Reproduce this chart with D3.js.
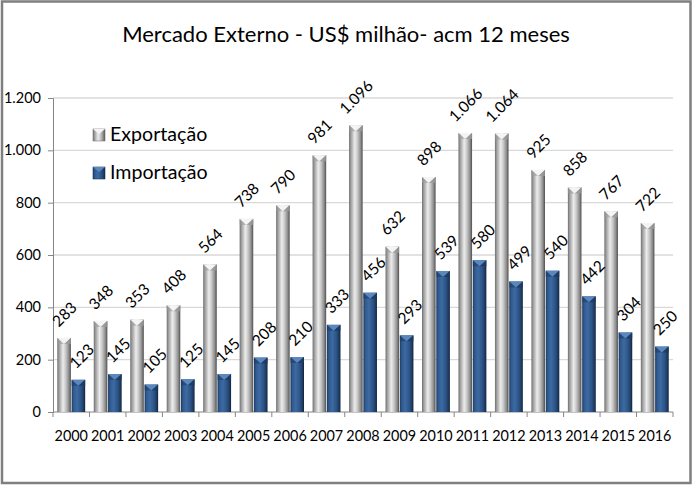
<!DOCTYPE html>
<html><head><meta charset="utf-8">
<script src="https://cdn.jsdelivr.net/npm/d3@7"></script>
<style>html,body{margin:0;padding:0;background:#fff}svg{display:block}text{font-family:Lato,"Open Sans",sans-serif;fill:#000}</style>
</head><body>
<script>
const years = ["2000","2001","2002","2003","2004","2005","2006","2007","2008","2009","2010","2011","2012","2013","2014","2015","2016"];
const exportacao = [283,348,353,408,564,738,790,981,1096,632,898,1066,1064,925,858,767,722];
const importacao = [123,145,105,125,145,208,210,333,456,293,539,580,499,540,442,304,250];
const seriesNames = ["Exportação","Importação"];
const yTicks = [0,200,400,600,800,1000,1200];
const title = "Mercado Externo - US$ milhão- acm 12 meses";

const W=693,H=486;
const svg=d3.select("body").append("svg").attr("width",W).attr("height",H);
const loc=d3.formatLocale({decimal:",",thousands:".",grouping:[3],currency:["",""]});
const fmt=loc.format(",d");

const defs=svg.append("defs");
function grad(id,stops){const g=defs.append("linearGradient").attr("id",id).attr("x1",0).attr("x2",1).attr("y1",0).attr("y2",0);
 stops.forEach(s=>g.append("stop").attr("offset",s[0]).attr("stop-color",s[1]));}
grad("gGray",[[0,"#6e6e6e"],[0.12,"#9a9a9a"],[0.42,"#ececec"],[0.62,"#c8c8c8"],[0.85,"#8c8c8c"],[1,"#4e4e4e"]]);
grad("gBlue",[[0,"#1d3a60"],[0.15,"#2f5b91"],[0.4,"#3d6aa2"],[0.7,"#2c5486"],[0.9,"#1d3a60"],[1,"#0f2038"]]);

// frame
svg.append("rect").attr("x",2).attr("y",1.5).attr("width",688.5).attr("height",481.5).attr("fill","#fff").attr("stroke","#7f7f7f").attr("stroke-width",2.5);

const x=d3.scaleBand().domain(years).range([53,673]).padding(0);
const x1=d3.scaleBand().domain(seriesNames).range([0,x.bandwidth()]).paddingInner(0.05).paddingOuter(0.3);
const y=d3.scaleLinear().domain([0,1200]).range([412,98]);

// grid
svg.append("g").selectAll("line").data(yTicks.filter(d=>d>0)).join("line")
 .attr("x1",53).attr("x2",673).attr("y1",d=>y(d)).attr("y2",d=>y(d)).attr("stroke","#d9d9d9").attr("stroke-width",1.3);

// y axis
const ya=svg.append("g").attr("transform","translate(53,0)").call(d3.axisLeft(y).tickValues(yTicks).tickFormat(fmt).tickSize(5).tickPadding(7));
ya.select(".domain").attr("stroke","#868686");
ya.selectAll(".tick line").attr("stroke","#868686");
ya.selectAll("text").style("font-size","14.5px").style("font-family","Lato").attr("fill","#000");

// x axis
const xa=svg.append("g").attr("transform","translate(0,412)");
xa.append("line").attr("x1",53).attr("x2",673).attr("stroke","#868686");
xa.selectAll("line.t").data(d3.range(years.length+1)).join("line").attr("class","t")
 .attr("x1",i=>53+i*x.step()).attr("x2",i=>53+i*x.step()).attr("y1",0).attr("y2",5).attr("stroke","#868686");
xa.selectAll("text").data(years).join("text").attr("x",d=>x(d)+x.bandwidth()/2).attr("y",29)
 .attr("text-anchor","middle").style("font-size","14.4px").text(d=>d);

// bars
const data=[{name:seriesNames[0],vals:exportacao,fill:"url(#gGray)",cap:"#f4f4f4",capS:"#9a9a9a"},
            {name:seriesNames[1],vals:importacao,fill:"url(#gBlue)",cap:"#5b87bd",capS:"#1d3a60"}];
data.forEach(s=>{
 const g=svg.append("g");
 years.forEach((yr,i)=>{
  const v=s.vals[i];const bx=x(yr)+x1(s.name);const bw=x1.bandwidth();const top=y(v);
  g.append("rect").attr("x",bx).attr("y",top).attr("width",bw).attr("height",y(0)-top).attr("fill",s.fill);
  g.append("path").attr("d",`M${bx},${top}L${bx+bw},${top}L${bx+bw/2},${top+6}Z`).attr("fill",s.cap);
  g.append("path").attr("d",`M${bx},${top}L${bx+bw/2},${top+6}L${bx},${top+6}Z`).attr("fill",s.capS).attr("opacity",0.55);
  g.append("path").attr("d",`M${bx+bw},${top}L${bx+bw/2},${top+6}L${bx+bw},${top+6}Z`).attr("fill",s.capS).attr("opacity",0.8);
  const t=g.append("text").style("font-size","15.5px").attr("text-anchor","middle").attr("dominant-baseline","central").text(fmt(v));
  const w=t.node().getComputedTextLength();
  const off=11+(w+10)*0.3536;
  const cx=bx+bw/2+(s.name===seriesNames[1]?3:0);
  t.attr("transform",`translate(${cx},${top-off}) rotate(-45)`);
 });
});

// legend
const lg=svg.append("g");
[[data[0],129],[data[1],167]].forEach(([s,yy])=>{
 lg.append("rect").attr("x",93).attr("y",yy).attr("width",12).attr("height",12).attr("fill",s.fill).attr("stroke",s.name===seriesNames[0]?"#7a7a7a":"#1d3a60").attr("stroke-width",0.6);
 lg.append("path").attr("d",`M93,${yy}L105,${yy}L99,${yy+5}Z`).attr("fill",s.cap);
 lg.append("text").attr("x",110).attr("y",yy+12).style("font-size","19.6px").text(s.name);
});

// title
const tt=svg.append("text").attr("x",346).attr("y",42).attr("text-anchor","middle").style("font-size","24px").text(title);
const tw=tt.node().getComputedTextLength();
tt.style("font-size",(24*448/tw).toFixed(2)+"px");
</script>
</body></html>
